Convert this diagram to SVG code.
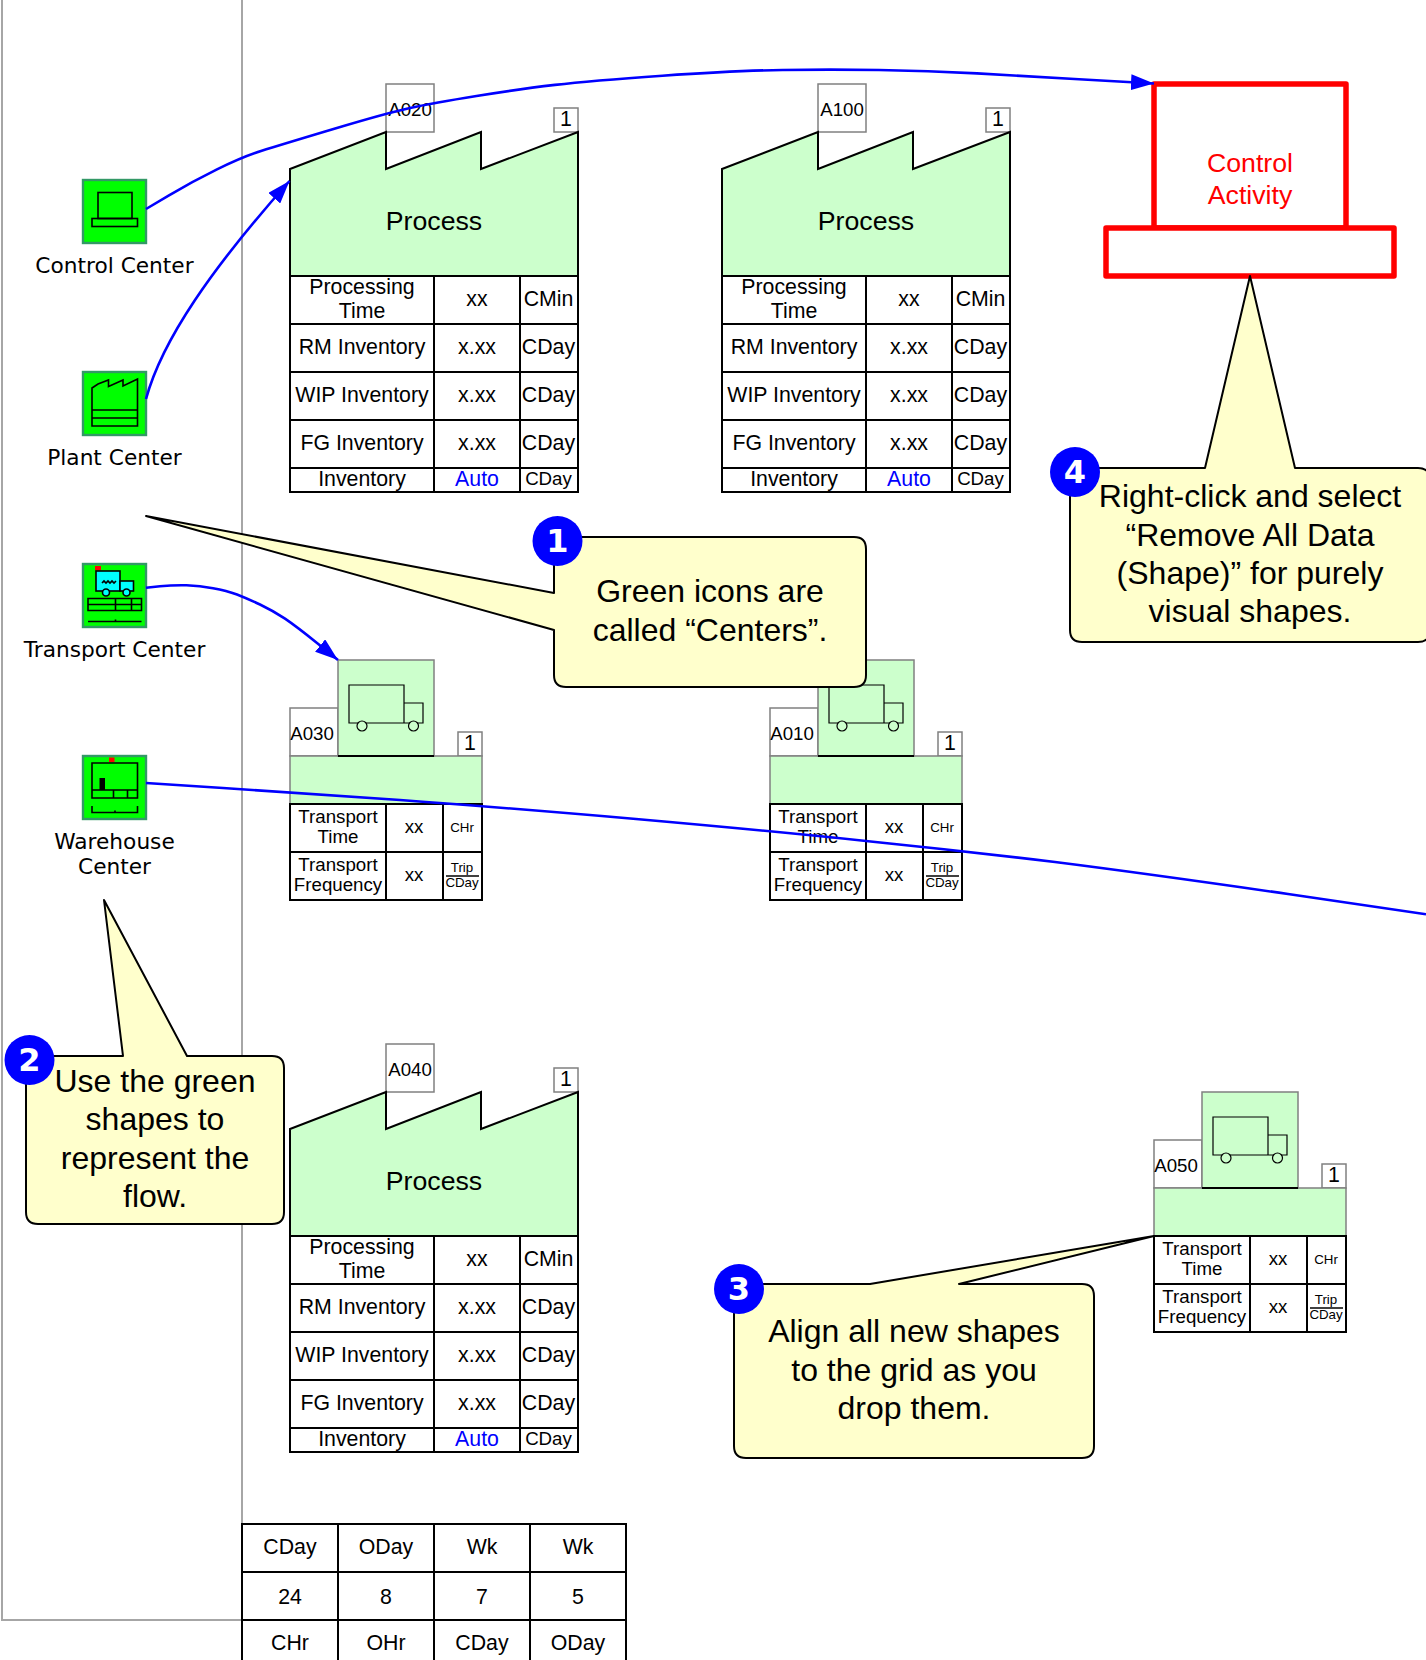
<svg xmlns="http://www.w3.org/2000/svg" width="1426" height="1660" viewBox="0 0 1426 1660">
<style>
text{font-family:"Liberation Sans",Arial,sans-serif;fill:#000;text-anchor:middle}
.t21{font-size:21.3px}.t18{font-size:18.7px}.t13{font-size:13.3px}.t26{font-size:26.7px}.t32{font-size:32px}
.lab{font-family:"DejaVu Sans",Verdana,sans-serif;font-size:21.7px}
.bl{fill:#00f}.rd{fill:#f00}
.badge{font-family:"DejaVu Sans",Verdana,sans-serif;font-weight:bold;font-size:32px;fill:#fff}
.grid{fill:none;stroke:#000;stroke-width:2}
.fine{fill:none;stroke:#000;stroke-width:1.2}
.wheel{fill:#cfc;stroke:#000;stroke-width:1.2}
.cell{fill:#fff;stroke:#000;stroke-width:2}
.green{fill:#cfc;stroke:#000;stroke-width:2}
.gband{fill:#cfc;stroke:#808080;stroke-width:1.5}
.tag{fill:#fff;stroke:#808080;stroke-width:1.5}
.ic{fill:none;stroke:#000;stroke-width:1.6}
.icb{fill:#0f0;stroke:#339966;stroke-width:2.4}
.cy{fill:#0ff;stroke:#000;stroke-width:1.6}
.conn{fill:none;stroke:#00f;stroke-width:2.6;stroke-linejoin:round}
.call{fill:#ffc;stroke:#000;stroke-width:2;stroke-linejoin:round}
.red{fill:#fff;stroke:#f00;stroke-width:5.5;stroke-linejoin:round}
.frame{fill:none;stroke:#a6a6a6;stroke-width:2}
</style>
<defs>
<marker id="arr" markerUnits="userSpaceOnUse" markerWidth="24" markerHeight="16" refX="23" refY="8" viewBox="0 0 24 16" orient="auto"><path d="M0 0L23 8L0 16Z" fill="#00f"/></marker>
</defs>
<g id="frame"><path class="frame" d="M2 0V1620H242M242 0V1524"/></g>

<g id="icon-control"><rect class="icb" x="83" y="180" width="63" height="63"/><rect class="ic" x="98" y="192.500" width="34" height="26"/><rect class="ic" x="92" y="218.500" width="45.500" height="8"/><text class="lab" x="114.500" y="273">Control Center</text></g>
<g id="icon-plant"><rect class="icb" x="83" y="372" width="63" height="63"/><path class="ic" d="M92 388L98 384L108.500 380V386.500L123 380V386L137.500 379V426H92ZM92 410H137.500M92 418H137.500"/><text class="lab" x="114.500" y="465">Plant Center</text></g>
<g id="icon-transport"><rect class="icb" x="83" y="564" width="63" height="63"/><rect x="95" y="566" width="6" height="4.500" fill="#f00"/><rect class="cy" x="96" y="571" width="24" height="20"/><rect class="cy" x="120" y="581" width="13.500" height="10"/><circle class="cy" cx="106" cy="592.500" r="3.500"/><circle class="cy" cx="126.500" cy="592.500" r="3.500"/><path class="ic" d="M102 583l2-2 2 2 2-2 2 2 2-2 2 2 2-2"/><path class="ic" d="M88 598.500H141.500V610.500H88ZM88 604.500H141.500M115.500 598.500V610.500M131.500 598.500V610.500M88 621.500H141.500M115.500 619.500V621.500"/><text class="lab" x="114.500" y="657">Transport Center</text></g>
<g id="icon-warehouse"><rect class="icb" x="83" y="756" width="63" height="63"/><rect x="109" y="757.500" width="5.500" height="4.500" fill="#f00"/><path class="ic" d="M92 763H137.500V798H92ZM92 790H137.500M113.500 790V798M127.500 790V798M92 806V812.500H137.500V806M115 810.500V812.500"/><rect x="99.500" y="778" width="5.500" height="12"/><text class="lab" x="114.500" y="849">Warehouse</text><text class="lab" x="114.500" y="874">Center</text></g>

<g id="process-a020">
<rect class="tag" x="386" y="84" width="48" height="48"/><text class="t18" x="410" y="116">A020</text>
<rect class="tag" x="554" y="108" width="24" height="24"/><text class="t21" x="566" y="126">1</text>
<path class="green" d="M290 276V169L386 132V169L481 132V169L578 132V276Z"/><text class="t26" x="434" y="230">Process</text>
<path class="cell" d="M290 276H578V492H290ZM290 324H578M290 372H578M290 420H578M290 468H578M434 276V492M520 276V492"/>
<text class="t21" x="362" y="294">Processing</text><text class="t21" x="362" y="318">Time</text><text class="t21" x="477" y="306">xx</text><text class="t21" x="548.500" y="306">CMin</text>
<text class="t21" x="362" y="354">RM Inventory</text><text class="t21" x="477" y="354">x.xx</text><text class="t21" x="548.500" y="354">CDay</text>
<text class="t21" x="362" y="402">WIP Inventory</text><text class="t21" x="477" y="402">x.xx</text><text class="t21" x="548.500" y="402">CDay</text>
<text class="t21" x="362" y="450">FG Inventory</text><text class="t21" x="477" y="450">x.xx</text><text class="t21" x="548.500" y="450">CDay</text>
<text class="t21" x="362" y="486">Inventory</text><text class="t21 bl" x="477" y="486">Auto</text><text class="t18" x="548.500" y="485">CDay</text>
</g>
<g id="process-a100" transform="translate(432 0)">
<rect class="tag" x="386" y="84" width="48" height="48"/><text class="t18" x="410" y="116">A100</text>
<rect class="tag" x="554" y="108" width="24" height="24"/><text class="t21" x="566" y="126">1</text>
<path class="green" d="M290 276V169L386 132V169L481 132V169L578 132V276Z"/><text class="t26" x="434" y="230">Process</text>
<path class="cell" d="M290 276H578V492H290ZM290 324H578M290 372H578M290 420H578M290 468H578M434 276V492M520 276V492"/>
<text class="t21" x="362" y="294">Processing</text><text class="t21" x="362" y="318">Time</text><text class="t21" x="477" y="306">xx</text><text class="t21" x="548.500" y="306">CMin</text>
<text class="t21" x="362" y="354">RM Inventory</text><text class="t21" x="477" y="354">x.xx</text><text class="t21" x="548.500" y="354">CDay</text>
<text class="t21" x="362" y="402">WIP Inventory</text><text class="t21" x="477" y="402">x.xx</text><text class="t21" x="548.500" y="402">CDay</text>
<text class="t21" x="362" y="450">FG Inventory</text><text class="t21" x="477" y="450">x.xx</text><text class="t21" x="548.500" y="450">CDay</text>
<text class="t21" x="362" y="486">Inventory</text><text class="t21 bl" x="477" y="486">Auto</text><text class="t18" x="548.500" y="485">CDay</text>
</g>
<g id="process-a040" transform="translate(0 960)">
<rect class="tag" x="386" y="84" width="48" height="48"/><text class="t18" x="410" y="116">A040</text>
<rect class="tag" x="554" y="108" width="24" height="24"/><text class="t21" x="566" y="126">1</text>
<path class="green" d="M290 276V169L386 132V169L481 132V169L578 132V276Z"/><text class="t26" x="434" y="230">Process</text>
<path class="cell" d="M290 276H578V492H290ZM290 324H578M290 372H578M290 420H578M290 468H578M434 276V492M520 276V492"/>
<text class="t21" x="362" y="294">Processing</text><text class="t21" x="362" y="318">Time</text><text class="t21" x="477" y="306">xx</text><text class="t21" x="548.500" y="306">CMin</text>
<text class="t21" x="362" y="354">RM Inventory</text><text class="t21" x="477" y="354">x.xx</text><text class="t21" x="548.500" y="354">CDay</text>
<text class="t21" x="362" y="402">WIP Inventory</text><text class="t21" x="477" y="402">x.xx</text><text class="t21" x="548.500" y="402">CDay</text>
<text class="t21" x="362" y="450">FG Inventory</text><text class="t21" x="477" y="450">x.xx</text><text class="t21" x="548.500" y="450">CDay</text>
<text class="t21" x="362" y="486">Inventory</text><text class="t21 bl" x="477" y="486">Auto</text><text class="t18" x="548.500" y="485">CDay</text>
</g>

<g id="transport-a030">
<rect class="tag" x="290" y="708" width="48" height="48"/><text class="t18" x="312" y="740">A030</text>
<rect class="tag" x="458" y="732" width="24" height="24"/><text class="t21" x="470" y="750">1</text>
<rect class="gband" x="290" y="756" width="192" height="48"/>
<rect class="gband" x="338" y="660" width="96" height="96"/><path d="M338 756H434" class="grid"/>
<path class="fine" d="M349 685H404V723H349ZM404 703H423V723H404Z"/><circle class="wheel" cx="362" cy="726" r="5"/><circle class="wheel" cx="413.500" cy="726" r="5"/>
<path class="cell" d="M290 804H482V900H290ZM290 852H482M386 804V900M443 804V900"/>
<text class="t18" x="338" y="823">Transport</text><text class="t18" x="338" y="843">Time</text><text class="t18" x="414" y="833">xx</text><text class="t13" x="462" y="832">CHr</text>
<text class="t18" x="338" y="871">Transport</text><text class="t18" x="338" y="891">Frequency</text><text class="t18" x="414" y="881">xx</text><text class="t13" x="462" y="872">Trip</text><path d="M446 876H479" stroke="#000" stroke-width="1.300"/><text class="t13" x="462" y="887">CDay</text>
</g>
<g id="transport-a010" transform="translate(480 0)">
<rect class="tag" x="290" y="708" width="48" height="48"/><text class="t18" x="312" y="740">A010</text>
<rect class="tag" x="458" y="732" width="24" height="24"/><text class="t21" x="470" y="750">1</text>
<rect class="gband" x="290" y="756" width="192" height="48"/>
<rect class="gband" x="338" y="660" width="96" height="96"/><path d="M338 756H434" class="grid"/>
<path class="fine" d="M349 685H404V723H349ZM404 703H423V723H404Z"/><circle class="wheel" cx="362" cy="726" r="5"/><circle class="wheel" cx="413.500" cy="726" r="5"/>
<path class="cell" d="M290 804H482V900H290ZM290 852H482M386 804V900M443 804V900"/>
<text class="t18" x="338" y="823">Transport</text><text class="t18" x="338" y="843">Time</text><text class="t18" x="414" y="833">xx</text><text class="t13" x="462" y="832">CHr</text>
<text class="t18" x="338" y="871">Transport</text><text class="t18" x="338" y="891">Frequency</text><text class="t18" x="414" y="881">xx</text><text class="t13" x="462" y="872">Trip</text><path d="M446 876H479" stroke="#000" stroke-width="1.300"/><text class="t13" x="462" y="887">CDay</text>
</g>
<g id="transport-a050" transform="translate(864 432)">
<rect class="tag" x="290" y="708" width="48" height="48"/><text class="t18" x="312" y="740">A050</text>
<rect class="tag" x="458" y="732" width="24" height="24"/><text class="t21" x="470" y="750">1</text>
<rect class="gband" x="290" y="756" width="192" height="48"/>
<rect class="gband" x="338" y="660" width="96" height="96"/><path d="M338 756H434" class="grid"/>
<path class="fine" d="M349 685H404V723H349ZM404 703H423V723H404Z"/><circle class="wheel" cx="362" cy="726" r="5"/><circle class="wheel" cx="413.500" cy="726" r="5"/>
<path class="cell" d="M290 804H482V900H290ZM290 852H482M386 804V900M443 804V900"/>
<text class="t18" x="338" y="823">Transport</text><text class="t18" x="338" y="843">Time</text><text class="t18" x="414" y="833">xx</text><text class="t13" x="462" y="832">CHr</text>
<text class="t18" x="338" y="871">Transport</text><text class="t18" x="338" y="891">Frequency</text><text class="t18" x="414" y="881">xx</text><text class="t13" x="462" y="872">Trip</text><path d="M446 876H479" stroke="#000" stroke-width="1.300"/><text class="t13" x="462" y="887">CDay</text>
</g>

<g id="control-activity">
<rect class="red" x="1154" y="84" width="192" height="144"/>
<rect class="red" x="1106" y="228" width="288" height="48"/>
<text class="t26 rd" x="1250" y="172">Control</text><text class="t26 rd" x="1250" y="204">Activity</text>
</g>

<g id="calendar-table">
<path class="grid" d="M242 1660V1524H626V1660M242 1572H626M242 1620H626M338 1524V1660M434 1524V1660M530 1524V1660"/>
<text class="t21" x="290" y="1554">CDay</text><text class="t21" x="386" y="1554">ODay</text><text class="t21" x="482" y="1554">Wk</text><text class="t21" x="578" y="1554">Wk</text>
<text class="t21" x="290" y="1604">24</text><text class="t21" x="386" y="1604">8</text><text class="t21" x="482" y="1604">7</text><text class="t21" x="578" y="1604">5</text>
<text class="t21" x="290" y="1650">CHr</text><text class="t21" x="386" y="1650">OHr</text><text class="t21" x="482" y="1650">CDay</text><text class="t21" x="578" y="1650">ODay</text>
</g>

<g id="connectors">
<path class="conn" marker-end="url(#arr)" d="M146 209L169 195.400Q192 181.700 217 169.400Q242 157 261 151Q280 145 333.500 129Q387 113 410 108Q433 103 476.500 96Q520 89 555 84.900Q590 80.700 662.500 75.700Q735 70.700 782.500 70Q830 69.300 879 70Q928 70.700 977 73.400Q1026 76 1079 79.200L1154 83.500"/>
<path class="conn" marker-end="url(#arr)" d="M146 399C162 340 212 268 289.500 181"/>
<path class="conn" marker-end="url(#arr)" d="M146 587.700L160 586.300Q173 585 186.500 585.300Q200 585.700 213 588.200Q226.700 590.700 237 594.500Q246.700 598.300 260 604.500Q273 610.700 285 618.700Q296.700 626.700 317 643L338 660"/>
<path class="conn" d="M146 783L223 788Q300 793 400 800Q500 807.300 636 819Q771.700 831 866 841Q960.700 850.700 1055 862Q1149.700 874 1288 894L1426 914.300"/>
</g>

<g id="callout-1"><path class="call" d="M566 537H854Q866 537 866 549V675Q866 687 854 687H566Q554 687 554 675V630L146 516L554 593V549Q554 537 566 537Z"/><text class="t32" x="710" y="602">Green icons are</text><text class="t32" x="710" y="641">called “Centers”.</text><circle cx="557.500" cy="541" r="25" fill="#00f"/><text class="badge" x="557.500" y="552">1</text></g>
<g id="callout-2"><path class="call" d="M38 1056H123L104 900L187 1056H272Q284 1056 284 1068V1212Q284 1224 272 1224H38Q26 1224 26 1212V1068Q26 1056 38 1056Z"/><text class="t32" x="155" y="1092">Use the green</text><text class="t32" x="155" y="1130">shapes to</text><text class="t32" x="155" y="1169">represent the</text><text class="t32" x="155" y="1207">flow.</text><circle cx="29.500" cy="1060" r="25" fill="#00f"/><text class="badge" x="29.500" y="1071">2</text></g>
<g id="callout-3"><path class="call" d="M746 1284H870L1154 1236L959 1284H1082Q1094 1284 1094 1296V1446Q1094 1458 1082 1458H746Q734 1458 734 1446V1296Q734 1284 746 1284Z"/><text class="t32" x="914" y="1342">Align all new shapes</text><text class="t32" x="914" y="1381">to the grid as you</text><text class="t32" x="914" y="1419">drop them.</text><circle cx="739" cy="1289" r="25" fill="#00f"/><text class="badge" x="739" y="1300">3</text></g>
<g id="callout-4"><path class="call" d="M1082 468H1205L1250 276L1295 468H1418Q1430 468 1430 480V630Q1430 642 1418 642H1082Q1070 642 1070 630V480Q1070 468 1082 468Z"/><text class="t32" x="1250" y="507">Right-click and select</text><text class="t32" x="1250" y="546">“Remove All Data</text><text class="t32" x="1250" y="584">(Shape)” for purely</text><text class="t32" x="1250" y="622">visual shapes.</text><circle cx="1075" cy="472" r="25" fill="#00f"/><text class="badge" x="1075" y="483">4</text></g>
</svg>
